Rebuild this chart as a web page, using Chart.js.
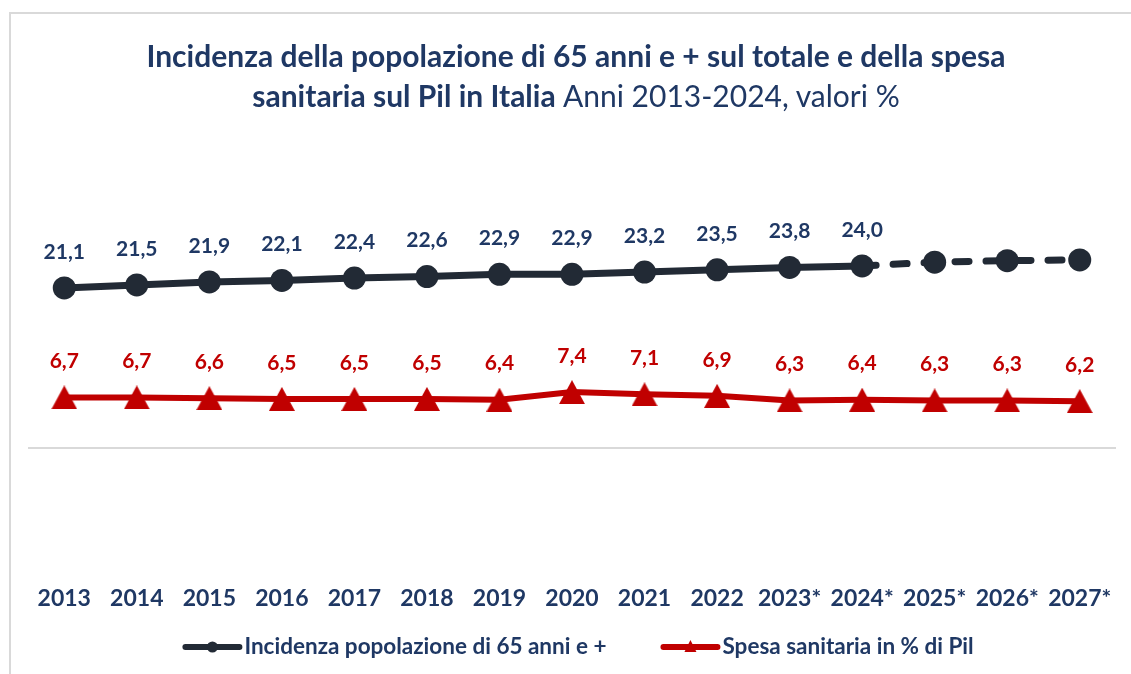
<!DOCTYPE html>
<html>
<head>
<meta charset="utf-8">
<script src="https://cdn.jsdelivr.net/npm/chart.js@4.4.1/dist/chart.umd.min.js"></script>
<style>
  html, body { margin: 0; padding: 0; background: #fff; }
  #wrap { position: relative; width: 1131px; height: 674px; overflow: hidden; font-family: Lato, sans-serif; }
  #frame { position: absolute; left: 9px; top: 12px; width: 1200px; height: 700px;
           border-left: 2px solid #d9d9d9; border-top: 2px solid #d9d9d9; }
  #chart { position: absolute; left: 0; top: 0; }
  #title { position: absolute; left: 21px; width: 1110px; top: 35px; text-align: center;
           color: #1F3864; font-size: 30px; line-height: 40px; font-weight: bold; }
  #title span { font-weight: normal; }
</style>
</head>
<body>
<div id="wrap">
  <div id="frame"></div>
  <canvas id="chart" width="1131" height="674"></canvas>
  <div id="title">Incidenza della popolazione di 65 anni e + sul totale e della spesa<br>sanitaria sul Pil in Italia <span>Anni 2013-2024, valori %</span></div>
</div>
<script>
const years = ['2013', '2014', '2015', '2016', '2017', '2018', '2019', '2020', '2021', '2022',
               '2023*', '2024*', '2025*', '2026*', '2027*'];
const popOver65 = [21.1, 21.5, 21.9, 22.1, 22.4, 22.6, 22.9, 22.9, 23.2, 23.5, 23.8, 24.0, 24.5, 24.7, 24.8];
const healthSpend = [6.7, 6.7, 6.6, 6.5, 6.5, 6.5, 6.4, 7.4, 7.1, 6.9, 6.3, 6.4, 6.3, 6.3, 6.2];
const popLabelled = 12; // the last three years carry no value label

const navy = '#1F3864';
const dark = '#222A35';
const red = '#C00000';

// triangle marker, centred on its bounding box like the original
function triangleImg(w, h, color) {
  const c = document.createElement('canvas');
  c.width = w; c.height = h;
  const g = c.getContext('2d');
  g.fillStyle = color;
  g.beginPath();
  g.moveTo(w / 2, 0);
  g.lineTo(w, h);
  g.lineTo(0, h);
  g.closePath();
  g.fill();
  return c;
}

const fmt = v => v.toFixed(1).replace('.', ',');

const valueLabels = {
  id: 'valueLabels',
  afterDatasetsDraw(chart) {
    const ctx = chart.ctx;
    ctx.save();
    ctx.font = 'bold 21px Lato';
    ctx.textAlign = 'center';
    ctx.textBaseline = 'middle';
    chart.data.datasets.forEach((ds, di) => {
      const meta = chart.getDatasetMeta(di);
      ctx.fillStyle = ds.labelColor;
      meta.data.forEach((el, i) => {
        if (i >= ds.labelCount) return;
        ctx.fillText(fmt(ds.data[i]), el.x, el.y - 36);
      });
    });
    ctx.restore();
  }
};

const legendBar = {
  id: 'legendBar',
  afterDraw(chart) {
    const ctx = chart.ctx;
    ctx.save();
    ctx.font = 'bold 22.5px Lato';
    ctx.textBaseline = 'middle';
    const y = 647, lineW = 60, gap = 54;
    const items = chart.data.datasets.map(ds => ({ ds, w: ctx.measureText(ds.label).width }));
    let total = items.reduce((s, it) => s + lineW + 2 + it.w, 0) + gap * (items.length - 1);
    let x = 578 - total / 2;
    items.forEach(it => {
      ctx.strokeStyle = it.ds.borderColor;
      ctx.fillStyle = it.ds.borderColor;
      ctx.lineWidth = 6;
      ctx.lineCap = 'round';
      ctx.beginPath();
      ctx.moveTo(x + 3, y);
      ctx.lineTo(x + lineW - 3, y);
      ctx.stroke();
      const cx = x + lineW / 2;
      ctx.beginPath();
      if (it.ds.legendMarker === 'circle') {
        ctx.arc(cx, y, 5.5, 0, Math.PI * 2);
      } else {
        ctx.moveTo(cx, y - 7);
        ctx.lineTo(cx + 6, y + 5);
        ctx.lineTo(cx - 6, y + 5);
        ctx.closePath();
      }
      ctx.fill();
      ctx.fillStyle = navy;
      ctx.fillText(it.ds.label, x + lineW + 2, y);
      x += lineW + 2 + it.w + gap;
    });
    ctx.restore();
  }
};

new Chart(document.getElementById('chart'), {
  type: 'line',
  data: {
    labels: years,
    datasets: [{
      label: 'Incidenza popolazione di 65 anni e +',
      data: popOver65,
      borderColor: dark,
      backgroundColor: dark,
      borderWidth: 7,
      borderCapStyle: 'round',
      pointRadius: 11.5,
      pointHoverRadius: 11.5,
      pointBorderWidth: 0,
      pointBackgroundColor: dark,
      segment: {
        borderDash: c => c.p0DataIndex >= popLabelled - 1 ? [14, 17] : undefined
      },
      labelColor: navy,
      labelCount: popLabelled,
      legendMarker: 'circle'
    }, {
      label: 'Spesa sanitaria in % di Pil',
      data: healthSpend,
      borderColor: red,
      backgroundColor: red,
      borderWidth: 6,
      pointStyle: triangleImg(26, 24, red),
      pointBorderWidth: 0,
      labelColor: red,
      labelCount: healthSpend.length,
      legendMarker: 'triangle'
    }]
  },
  options: {
    responsive: false,
    animation: false,
    layout: { padding: { left: 28, right: 15, top: 140, bottom: 52 } },
    plugins: {
      legend: { display: false },
      tooltip: { enabled: false }
    },
    scales: {
      x: {
        offset: true,
        grid: { display: false, drawTicks: false },
        border: { display: false },
        ticks: {
          color: navy,
          font: { family: 'Lato', size: 23, weight: 'bold' },
          padding: 10,
          autoSkip: false,
          maxRotation: 0
        }
      },
      y: {
        min: -16.6,
        max: 40.58,
        afterBuildTicks: axis => { axis.ticks = [{ value: 0 }]; },
        grid: { color: '#d9d9d9', lineWidth: 2, drawTicks: false },
        border: { display: false },
        ticks: { display: false }
      }
    }
  },
  plugins: [valueLabels, legendBar]
});
</script>
</body>
</html>
